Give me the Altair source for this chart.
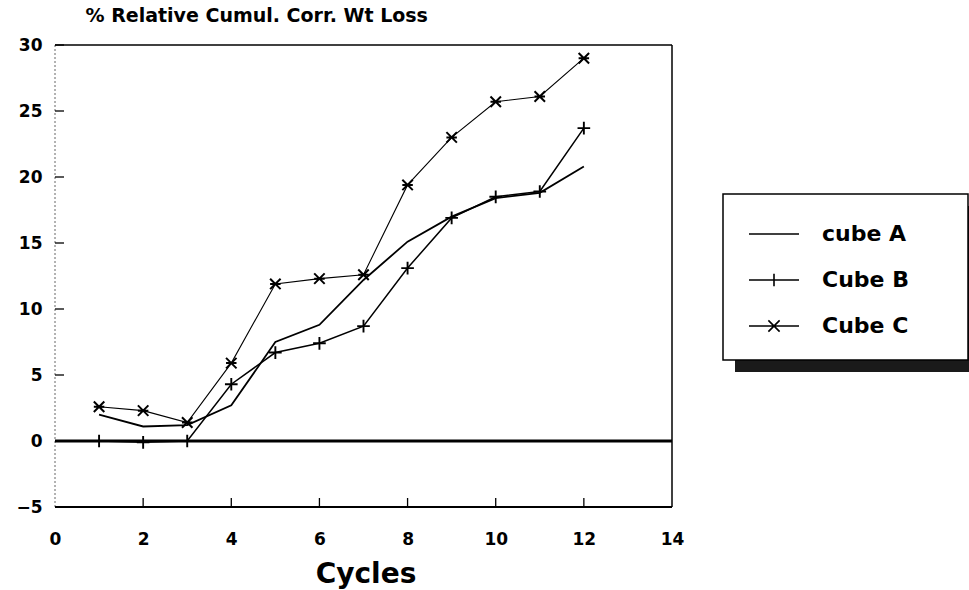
import altair as alt
import pandas as pd

# Weight-loss measurements per cycle for three cubes
cycles = [1, 2, 3, 4, 5, 6, 7, 8, 9, 10, 11, 12]
cube_a = [2.0, 1.1, 1.2, 2.7, 7.5, 8.8, 12.2, 15.1, 17.0, 18.4, 18.8, 20.8]
cube_b = [0.0, -0.1, 0.0, 4.3, 6.7, 7.4, 8.7, 13.1, 16.9, 18.5, 18.9, 23.7]
cube_c = [2.6, 2.3, 1.4, 5.9, 11.9, 12.3, 12.6, 19.4, 23.0, 25.7, 26.1, 29.0]

series_names = ["cube A", "Cube B", "Cube C"]
x_ticks = [0, 2, 4, 6, 8, 10, 12, 14]
y_ticks = [-5, 0, 5, 10, 15, 20, 25, 30]

rows = []
for name, vals in zip(series_names, [cube_a, cube_b, cube_c]):
    for c, v in zip(cycles, vals):
        rows.append({"cycle": c, "loss": v, "series": name})
df = pd.DataFrame(rows)

FONT = "DejaVu Sans"
W, H = 617, 462

xscale = alt.Scale(domain=[0, 14], nice=False, zero=False)
yscale = alt.Scale(domain=[-5, 30], nice=False, zero=False)

x_enc = alt.X(
    "cycle:Q", scale=xscale,
    axis=alt.Axis(
        values=x_ticks, domain=False, ticks=False, grid=False,
        labelFont=FONT, labelFontWeight="bold", labelFontSize=17,
        labelColor="black", labelPadding=24, labelFlush=False,
        title="Cycles", titleFont=FONT, titleFontWeight="bold",
        titleFontSize=28, titleColor="black", titleX=W / 2 + 2, titleY=75,
        titleBaseline="alphabetic",
    ),
)
y_enc = alt.Y(
    "loss:Q", scale=yscale,
    axis=alt.Axis(
        values=y_ticks, domain=False, ticks=False, grid=False,
        labelFont=FONT, labelFontWeight="bold", labelFontSize=17,
        labelColor="black", labelPadding=13,
        title="% Relative Cumul. Corr. Wt Loss", titleFont=FONT,
        titleFontWeight="bold", titleFontSize=19, titleColor="black",
        titleAngle=0, titleAlign="left", titleBaseline="alphabetic",
        titleX=30, titleY=-24,
    ),
)

base = alt.Chart(df)

# frame of the plot area
frame_df = pd.DataFrame({"x0": [0], "x1": [14], "y0": [-5], "y1": [30]})
frame = alt.Chart(frame_df)
left_edge = frame.mark_rule(color="#666", strokeWidth=1, strokeDash=[2, 2]).encode(
    x=alt.X("x0:Q", scale=xscale), y=alt.Y("y0:Q", scale=yscale), y2="y1:Q")
right_edge = frame.mark_rule(color="black", strokeWidth=1.5).encode(
    x=alt.X("x1:Q", scale=xscale), y=alt.Y("y0:Q", scale=yscale), y2="y1:Q")
top_edge = frame.mark_rule(color="black", strokeWidth=1.6).encode(
    y=alt.Y("y1:Q", scale=yscale), x=alt.X("x0:Q", scale=xscale), x2="x1:Q")
bottom_edge = frame.mark_rule(color="black", strokeWidth=2).encode(
    y=alt.Y("y0:Q", scale=yscale), x=alt.X("x0:Q", scale=xscale), x2="x1:Q")

zero_df = pd.DataFrame({"x0": [0], "x1": [14], "y": [0]})
zero_line = alt.Chart(zero_df).mark_rule(color="black", strokeWidth=3).encode(
    y=alt.Y("y:Q", scale=yscale), x=alt.X("x0:Q", scale=xscale), x2="x1:Q")

# inward tick marks
ytick_marks = alt.Chart(pd.DataFrame({"v": y_ticks})).mark_rule(
    color="black", strokeWidth=1.3).encode(
    y=alt.Y("v:Q", scale=yscale), x=alt.value(0), x2=alt.value(9))
xtick_marks = alt.Chart(pd.DataFrame({"v": x_ticks[1:-1]})).mark_rule(
    color="black", strokeWidth=1.3).encode(
    x=alt.X("v:Q", scale=xscale), y=alt.value(H), y2=alt.value(H - 9))


def series_line(name, width):
    return base.transform_filter(alt.datum.series == name).mark_line(
        color="black", strokeWidth=width).encode(x=x_enc, y=y_enc)


line_a = series_line("cube A", 1.8)
line_b = series_line("Cube B", 1.5)
line_c = series_line("Cube C", 1.1)

PLUS = "M-1,0H1M0,-1V1"
STAR = "M-1,-1L1,1M-1,1L1,-1M-1,0H1"

marks_b = base.transform_filter(alt.datum.series == "Cube B").mark_point(
    shape=PLUS, size=160, color="black", strokeWidth=1.9, filled=False, opacity=1
).encode(x=alt.X("cycle:Q", scale=xscale), y=alt.Y("loss:Q", scale=yscale))
marks_c = base.transform_filter(alt.datum.series == "Cube C").mark_point(
    shape=STAR, size=110, color="black", strokeWidth=2, filled=False, opacity=1
).encode(x=alt.X("cycle:Q", scale=xscale), y=alt.Y("loss:Q", scale=yscale))

# legend box with drop shadow
one = alt.Data(values=[{}])
shadow = alt.Chart(one).mark_rect(color="#1a1a1a").encode(
    x=alt.value(680), x2=alt.value(925), y=alt.value(161), y2=alt.value(327))
box = alt.Chart(one).mark_rect(fill="white", stroke="black", strokeWidth=1.5).encode(
    x=alt.value(668), x2=alt.value(913), y=alt.value(149), y2=alt.value(315))

LEG_A = "M-2,0H2"
LEG_B = "M-2,0H2M0,-0.5V0.5"
LEG_C = "M-2,0H2M-0.45,-0.45L0.45,0.45M-0.45,0.45L0.45,-0.45"

legend_layer = base.mark_point(opacity=0, size=625, filled=False).encode(
    x=alt.X("cycle:Q", scale=xscale), y=alt.Y("loss:Q", scale=yscale),
    shape=alt.Shape(
        "series:N",
        scale=alt.Scale(domain=series_names, range=[LEG_A, LEG_B, LEG_C]),
        legend=alt.Legend(
            title=None, orient="none", legendX=705.5, legendY=175.5,
            padding=0, rowPadding=21, labelOffset=34.5, zindex=2,
            symbolOpacity=1, symbolStrokeColor="black",
            symbolFillColor="transparent", symbolStrokeWidth=1.6,
            symbolSize=625,
            labelFont=FONT, labelFontWeight="bold", labelFontSize=22,
            labelColor="black", labelLimit=300,
        ),
    ),
)

chart = alt.layer(
    shadow, box,
    left_edge, right_edge, top_edge, bottom_edge, zero_line,
    ytick_marks, xtick_marks,
    line_a, line_b, line_c, marks_b, marks_c, legend_layer,
).properties(
    width=W, height=H,
    autosize=alt.AutoSizeParams(type="none"),
    padding={"left": 55, "top": 45, "right": 297, "bottom": 83},
    background="white",
).configure_view(stroke=None)

chart.save("out.html", embed_options={"renderer": "svg", "actions": False})
